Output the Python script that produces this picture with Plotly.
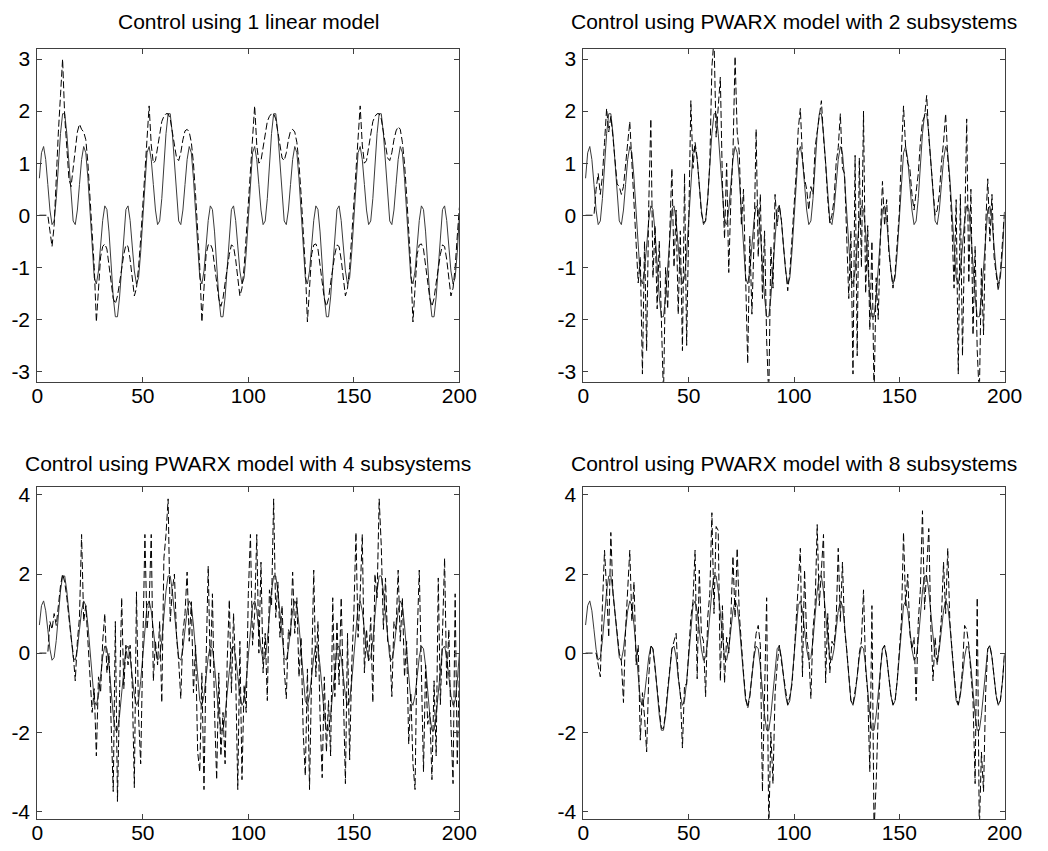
import plotly.graph_objects as go

# ---------------- data ----------------
steps = list(range(1, 201))

reference = [
    0.71, 1.20, 1.32, 1.07, 0.59, 0.10, -0.18, -0.11, 0.32, 0.95,
    1.57, 1.95, 1.95, 1.57, 0.95, 0.32, -0.11, -0.18, 0.10, 0.59,
    1.07, 1.32, 1.20, 0.71, 0.00, -0.71, -1.20, -1.32, -1.07, -0.59,
    -0.10, 0.18, 0.11, -0.32, -0.95, -1.57, -1.95, -1.95, -1.57, -0.95,
    -0.32, 0.11, 0.18, -0.10, -0.59, -1.07, -1.32, -1.20, -0.71, 0.00,
    0.71, 1.20, 1.32, 1.07, 0.59, 0.10, -0.18, -0.11, 0.32, 0.95,
    1.57, 1.95, 1.95, 1.57, 0.95, 0.32, -0.11, -0.18, 0.10, 0.59,
    1.07, 1.32, 1.20, 0.71, 0.00, -0.71, -1.20, -1.32, -1.07, -0.59,
    -0.10, 0.18, 0.11, -0.32, -0.95, -1.57, -1.95, -1.95, -1.57, -0.95,
    -0.32, 0.11, 0.18, -0.10, -0.59, -1.07, -1.32, -1.20, -0.71, 0.00,
    0.71, 1.20, 1.32, 1.07, 0.59, 0.10, -0.18, -0.11, 0.32, 0.95,
    1.57, 1.95, 1.95, 1.57, 0.95, 0.32, -0.11, -0.18, 0.10, 0.59,
    1.07, 1.32, 1.20, 0.71, 0.00, -0.71, -1.20, -1.32, -1.07, -0.59,
    -0.10, 0.18, 0.11, -0.32, -0.95, -1.57, -1.95, -1.95, -1.57, -0.95,
    -0.32, 0.11, 0.18, -0.10, -0.59, -1.07, -1.32, -1.20, -0.71, 0.00,
    0.71, 1.20, 1.32, 1.07, 0.59, 0.10, -0.18, -0.11, 0.32, 0.95,
    1.57, 1.95, 1.95, 1.57, 0.95, 0.32, -0.11, -0.18, 0.10, 0.59,
    1.07, 1.32, 1.20, 0.71, 0.00, -0.71, -1.20, -1.32, -1.07, -0.59,
    -0.10, 0.18, 0.11, -0.32, -0.95, -1.57, -1.95, -1.95, -1.57, -0.95,
    -0.32, 0.11, 0.18, -0.10, -0.59, -1.07, -1.32, -1.20, -0.71, 0.00,
]

output_linear = [
    0, 0, 0, 0, 0, -0.3, -0.6, -0.2, 0.8, 1.6,
    2.3, 3.0, 1.9, 1.2, 0.7, 0.55, 0.9, 1.3, 1.6, 1.75,
    1.65, 1.6, 1.45, 1.0, 0.4, -0.3, -1.0, -2.05, -1.3, -0.8,
    -0.6, -0.55, -0.65, -0.95, -1.35, -1.6, -1.7, -1.55, -1.3, -1.0,
    -0.75, -0.57, -0.6, -0.85, -1.25, -1.55, -1.4, -1.0, -0.45, 0.2,
    0.9, 1.5, 2.1, 1.35, 1.0, 1.05, 1.3, 1.6, 1.8, 1.9,
    1.95, 1.95, 1.85, 1.6, 1.3, 1.1, 1.05, 1.2, 1.45, 1.62,
    1.65, 1.6, 1.4, 1.0, 0.4, -0.3, -1.0, -2.05, -1.3, -0.75,
    -0.57, -0.55, -0.65, -0.95, -1.35, -1.6, -1.75, -1.6, -1.3, -1.0,
    -0.75, -0.57, -0.6, -0.85, -1.25, -1.55, -1.4, -1.0, -0.4, 0.2,
    0.9, 1.5, 2.1, 1.35, 1.0, 1.05, 1.3, 1.6, 1.8, 1.9,
    1.95, 1.95, 1.85, 1.6, 1.3, 1.1, 1.05, 1.2, 1.45, 1.62,
    1.65, 1.6, 1.4, 1.0, 0.4, -0.3, -1.0, -2.05, -1.3, -0.75,
    -0.57, -0.55, -0.65, -0.95, -1.35, -1.6, -1.75, -1.6, -1.3, -1.0,
    -0.75, -0.57, -0.6, -0.85, -1.25, -1.55, -1.4, -1.0, -0.4, 0.2,
    0.9, 1.5, 2.1, 1.35, 1.0, 1.05, 1.3, 1.6, 1.8, 1.9,
    1.95, 1.95, 1.85, 1.6, 1.3, 1.1, 1.05, 1.2, 1.45, 1.62,
    1.7, 1.65, 1.4, 1.0, 0.4, -0.3, -1.0, -2.05, -1.3, -0.75,
    -0.57, -0.55, -0.65, -0.95, -1.35, -1.6, -1.75, -1.6, -1.3, -1.0,
    -0.75, -0.57, -0.6, -0.85, -1.25, -1.55, -1.4, -1.0, -0.4, 0.15,
]

output_pwarx2 = [
    0, 0, 0, 0, 0, 0.5, 0.8, 0.4, 0.75, 1.4,
    2.05, 1.6, 1.9, 1.5, 1.0, 0.6, 0.55, 0.4, 0.55, 1.0,
    1.4, 1.8, 1.0, 0.3, -0.4, -1.3, -0.8, -3.05, -0.5, -2.6,
    0.2, 1.85, -1.2, -0.2, -1.8, -0.5, -2.0, -3.5, -1.0, -1.8,
    -0.3, 0.9, -1.0, 0.1, -1.9, -0.3, -2.6, 0.8, -2.5, 0.3,
    2.2, 0.9, 1.4, 1.1, 0.6, 0.05, -0.15, -0.1, 0.3, 1.0,
    2.85, 3.4, 1.5, 2.0, 2.65, 0.6, -0.45, 1.0, -1.1, 0.3,
    1.2, 3.05, 1.6, 1.2, -0.2, 0.5, -1.0, -2.85, -0.4, -1.9,
    -0.5, 1.65, -0.8, 0.4, -1.6, -0.3, -2.4, -3.5, -0.6, -1.4,
    0.4, -0.2, 0.2, -0.1, -0.6, -1.0, -1.45, -1.1, -0.5, 0.05,
    0.8, 1.65, 2.05, 1.1, 0.7, 0.5, 0.1, 0.55, 0.4, 1.3,
    1.6, 2.0, 2.2, 1.5, 1.0, 0.3, -0.15, 0.0, 0.3, 1.0,
    1.3, 1.95, 0.9, 0.8, -0.6, -1.6, -0.3, -3.05, 1.15, -2.7,
    1.1, -1.0, 2.0, -1.5, -0.2, -2.2, -0.5, -3.5, -1.2, -2.0,
    -0.4, 0.65, -0.2, 0.3, -0.7, -1.1, -1.4, -1.1, -0.6, 0.05,
    1.2, 2.1, 1.3, 1.0, 0.9, 0.4, 0.1, 0.4, 0.8, 1.4,
    1.8, 1.9, 2.3, 1.5, 1.0, 0.4, 0.0, 0.1, 0.4, 1.0,
    1.4, 1.95, 1.1, 0.6, -0.2, -1.4, 0.3, -3.05, 0.4, -2.7,
    0.0, 1.85, -1.3, 0.5, -2.3, -0.6, -2.6, -3.5, -1.0, -2.3,
    -0.2, 0.7, -0.5, 0.4, -0.8, -1.1, -1.45, -1.1, -0.5, 0.1,
]

output_pwarx4 = [
    0, 0, 0, 0, 0, 0.8, 0.6, 1.0, 0.7, 1.2,
    1.7, 2.0, 1.8, 1.4, 0.8, 0.4, 0.0, -0.7, 0.3, 0.9,
    3.0, 0.8, 1.2, 0.2, -0.5, -1.5, -0.9, -2.6, -0.6, -1.0,
    0.3, 1.0, -0.5, 0.0, -1.8, -3.5, 0.8, -3.75, -1.0, 1.4,
    -0.9, 0.2, -0.3, 0.2, -0.8, -3.4, 1.55, -1.6, -2.8, 0.5,
    3.0, 0.6, 1.2, 3.0, -0.7, 0.3, -0.3, 0.8, -1.25, 2.4,
    3.0, 3.9, 0.8, 1.6, 2.0, 0.4, -0.2, -1.15, 0.5, 1.0,
    2.05, 0.3, 1.3, -1.0, 0.2, -2.5, -3.0, -0.5, -3.45, -0.2,
    2.2, -0.5, 1.5, -1.5, -3.2, -0.5, -2.6, -1.5, -2.8, -0.2,
    1.35, -1.0, 1.0, -0.5, -3.45, 0.3, -3.2, -0.8, -1.5, 1.5,
    3.0, 0.2, 1.0, 3.0, 0.0, 2.3, -0.5, 0.5, -1.2, 1.6,
    1.2, 3.9, 0.9, 1.8, 0.4, 1.2, -0.4, -1.15, 0.6, 0.4,
    2.05, 0.5, 1.4, -0.6, 0.4, -2.0, -3.1, -0.4, -3.45, -0.5,
    2.1, -0.6, 0.8, -1.6, -3.15, -0.6, -2.5, -1.2, -2.6, 1.4,
    -1.1, 0.8, -0.8, 1.4, -1.0, -3.3, 0.5, -2.7, -0.3, 1.0,
    3.05, 0.4, 1.5, 3.0, -0.5, 0.6, -0.2, 0.9, -1.25, 2.0,
    1.4, 3.9, 2.7, 0.6, 1.9, 0.3, 0.2, -1.1, 0.8, 0.6,
    2.1, 0.3, 1.4, -0.6, 0.3, -2.3, -1.0, -2.8, -3.45, 0.4,
    2.1, -1.0, -3.0, -0.3, -1.8, -1.5, -3.2, -0.7, -2.6, 1.9,
    -1.3, 0.5, 2.4, -0.8, 0.6, -1.8, -3.3, 1.5, -2.8, -0.4,
]

output_pwarx8 = [
    0, 0, 0, 0, 0, 0, -0.3, -0.6, 1.2, 2.6,
    1.6, 0.4, 3.05, 1.5, 1.0, 0.5, 0.0, -0.2, -1.25, 0.6,
    1.6, 2.6, 0.8, 1.8, -0.3, 0.2, -2.2, -1.0, -1.6, -2.5,
    -0.6, 0.2, 0.1, -0.4, -0.9, -1.55, -1.9, -1.9, -1.5, -0.9,
    -0.3, 0.1, 0.3, 0.5, -0.6, -1.0, -2.4, -0.8, -0.8, 0.2,
    0.9, 1.3, 2.6, -0.65, 2.1, 0.5, 0.3, -1.1, 0.9, 1.5,
    3.55, 1.0, 3.2, 3.1, -0.7, 1.2, -0.75, 0.4, 0.0, 0.9,
    2.45, 0.9, 2.65, 1.0, 0.2, -0.5, -1.1, -1.4, -1.1, -0.6,
    0.0, 0.5, 0.7, 0.2, -3.5, -0.8, 1.4, -4.5, -2.0, -3.3,
    -1.0, -0.3, 0.2, -0.2, -0.6, -1.0, -1.3, -1.1, -0.8, -0.1,
    0.8, 1.5, 2.65, -0.6, 2.1, 0.4, 0.0, -1.15, 0.6, 1.2,
    3.25, 1.2, 2.0, 3.0, -0.75, 1.0, -0.5, 0.3, 0.2, 0.8,
    2.65, 0.8, 2.3, 0.6, 0.1, -0.6, -1.2, -1.3, -1.0, -0.6,
    0.0, 0.3, 1.6, -0.4, -1.0, -3.0, 1.2, -4.5, -3.3, -1.5,
    -0.4, 0.1, 0.2, -0.1, -0.6, -1.05, -1.3, -1.2, -0.7, 0.0,
    0.8, 3.05, 1.2, 2.0, 0.5, 0.1, 0.4, -1.2, 0.8, 1.6,
    3.6, 1.1, 2.2, 3.15, 0.6, -0.7, 0.4, -0.3, 0.2, 0.9,
    2.3, 1.0, 2.65, 0.8, 0.1, -0.6, -1.1, -1.3, -1.0, -0.4,
    0.7, 0.6, 0.2, -0.5, -1.2, -3.3, 1.4, -4.5, -2.5, -3.5,
    -1.0, 0.1, 0.2, -0.1, -0.6, -1.1, -1.3, -1.2, -0.7, 0.0,
]

titles = [
    "Control using 1 linear model",
    "Control using PWARX model with 2 subsystems",
    "Control using PWARX model with 4 subsystems",
    "Control using PWARX model with 8 subsystems",
]
outputs = [output_linear, output_pwarx2, output_pwarx4, output_pwarx8]
y_ticks_top = [-3, -2, -1, 0, 1, 2, 3]
y_labels_top = ["-3", "-2", "-1", "0", "1", "2", "3"]
y_ticks_bottom = [-4, -2, 0, 2, 4]
y_labels_bottom = ["-4", "-2", "0", "2", "4"]
x_ticks = [0, 50, 100, 150, 200]
x_labels = ["0", "50", "100", "150", "200"]

# ---------------- figure ----------------
W, H = 1048, 851
FONT = "Liberation Sans, Arial, sans-serif"
FS = 21
AX = "#404040"

# pixel boxes (left, right, top, bottom)
boxes = [
    (32, 464, 45, 381),
    (591, 1022, 45, 381),
    (32, 464, 487, 822),
    (591, 1022, 487, 822),
]
title_gap = [27, 27, 24, 24]
y_ranges = [[-3.2, 3.2], [-3.2, 3.2], [-4.2, 4.2], [-4.2, 4.2]]
y_tickvals = [y_ticks_top, y_ticks_top, y_ticks_bottom, y_ticks_bottom]
y_ticktext = [y_labels_top, y_labels_top, y_labels_bottom, y_labels_bottom]

fig = go.Figure()
layout = dict(
    width=W, height=H,
    margin=dict(l=0, r=0, t=0, b=0),
    paper_bgcolor="white", plot_bgcolor="white",
    showlegend=False,
    font=dict(family=FONT, size=FS, color="black"),
    annotations=[],
)

for i in range(4):
    sfx = "" if i == 0 else str(i + 1)
    xa, ya = "x" + sfx, "y" + sfx
    fig.add_trace(go.Scatter(
        x=steps, y=reference, mode="lines", xaxis=xa, yaxis=ya,
        line=dict(color="#3a3a3a", width=1), hoverinfo="skip"))
    fig.add_trace(go.Scatter(
        x=steps, y=outputs[i], mode="lines", xaxis=xa, yaxis=ya,
        line=dict(color="black", width=1, dash="7px,3px"), hoverinfo="skip"))
    l, r, t, b = boxes[i]
    common = dict(
        showline=True, mirror="ticks", linecolor=AX, linewidth=1,
        ticks="inside", ticklen=5, tickcolor=AX, tickwidth=1,
        showgrid=False, zeroline=False,
        tickfont=dict(family=FONT, size=FS, color="black"),
    )
    layout["xaxis" + sfx] = dict(
        common, domain=[l / W, r / W], range=[0, 200],
        tickvals=x_ticks, ticktext=x_labels,
        anchor=ya, ticklabelstandoff=-5)
    layout["yaxis" + sfx] = dict(
        common, domain=[1 - b / H, 1 - t / H], range=y_ranges[i],
        tickvals=y_tickvals[i], ticktext=y_ticktext[i],
        anchor=xa, ticklabelstandoff=2)
    layout["annotations"].append(dict(
        text=titles[i], xref="paper", yref="paper",
        x=(l + r) / 2 / W, y=1 - (t - title_gap[i]) / H,
        xanchor="center", yanchor="middle", showarrow=False,
        font=dict(family=FONT, size=FS, color="black")))

fig.update_layout(**layout)
fig.write_html("out.html")
